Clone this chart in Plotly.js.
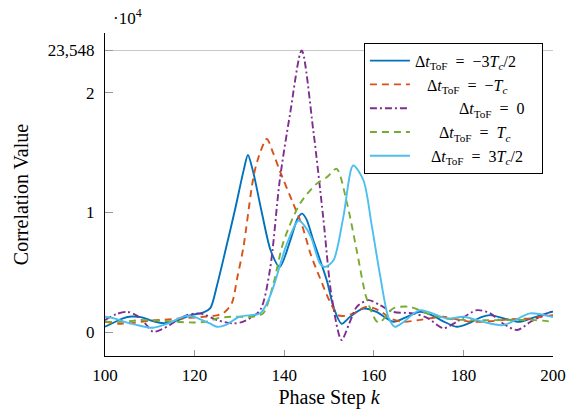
<!DOCTYPE html>
<html>
<head>
<meta charset="utf-8">
<script src="https://cdn.plot.ly/plotly-3.0.1.min.js"></script>
<style>html,body{margin:0;padding:0;background:#fff;}#chart{width:574px;height:409px;}</style>
</head>
<body>
<div id="chart"></div>
<script>
// Series: Delta t_ToF = -3Tc/2
const kA = [100,102,104,106,108,110,113,116,119,122,123.5,125,127,129,131,131.9,133,135,137,139,141.3,143,144,145,146.5,149.5,151,152.8,154.7,157.7,160.6,164.4,167,170.3,173,175.5,178.5,181,184,186,189,192.6,196,199.7,200];
const vA = [450,800,1150,1300,1250,1000,750,950,1400,1650,2000,3900,7000,10200,13600,14800,13500,10000,6800,5440,7600,9500,9900,9400,7670,4330,2110,700,1280,1970,1690,860,1200,1690,1400,900,440,700,1250,1420,1150,860,1250,1690,1700];
// Series: Delta t_ToF = -Tc
const kB = [100,103,106,110,114,118,122,125,126.5,128.3,129.5,130.9,133,134,136.1,137.5,139,142,144,146,148,150,152,153.5,156,158,160,162,164,166.6,170,175.5,178,182,186,190,195,200];
const vB = [850,700,750,950,1050,1170,1280,1400,1600,2400,4500,7100,12670,14300,16140,15000,13500,10750,8900,6400,4500,2700,1420,1350,1650,2080,2000,1600,1100,860,1000,1280,1100,860,900,1050,1150,1420];
// Series: Delta t_ToF = 0
const kC = [100,102.5,105,107,109,110.7,112.5,114.5,117,118.3,120.5,122,125,128.6,131,134.6,136.8,139,141.3,143.9,146.5,148.7,150.6,152.8,154.5,156.2,158.8,161.4,164.3,168.8,172,175.5,178.5,183,186,188.8,192,195,199.5,200];
const vC = [1000,1500,1690,1400,700,30,200,600,1200,1420,1560,1500,1000,720,900,1830,5170,12670,18220,23548,16830,9610,2940,-670,700,2110,2670,2250,1690,1560,1170,330,860,1830,1560,720,170,860,1690,1700];
// Series: Delta t_ToF = Tc
const kD = [100,104,108,112,116,120,123,125,128,133,135.3,137.6,139.8,143.5,147.2,149.5,151.7,154,156.2,158.4,160.6,161.4,164.3,168,171.9,176.3,180.8,185,191,196,200];
const vD = [860,860,1000,950,860,800,900,1150,1280,1280,1560,4060,7500,10720,12390,12940,13640,10800,6800,2800,900,800,1970,2110,1560,1140,1000,1000,1000,1000,860];
// Series: Delta t_ToF = 3Tc/2
const kE = [100,102,104,107,110.7,114,117.9,120,123.4,125,127,130,134.6,136,137.6,140.6,143.2,144.5,146,148,149.1,151,153.2,155.4,157.7,159.5,161.4,163.3,164.7,166.5,170.3,176.3,180,184,188.9,194.9,199.7,200];
const vE = [1280,1150,900,600,360,700,1330,1250,720,440,600,1280,1560,2300,3780,7390,9330,8900,7940,5720,5440,6000,9610,13920,12670,9000,4750,1200,440,800,1830,1140,1280,900,580,1560,1280,1250];

const sp = n => '\u00a0'.repeat(n);
const lhs = 'Δ<i>t</i><sub>ToF</sub>' + sp(2) + '=' + sp(2);
const names = [
  lhs + '−3<i>T</i><sub><i>c</i></sub>/2' + sp(3),
  sp(3) + lhs + '−<i>T</i><sub><i>c</i></sub>' + sp(3),
  sp(11) + lhs + '0' + sp(3),
  sp(6) + lhs + '<i>T</i><sub><i>c</i></sub>' + sp(3),
  sp(4) + lhs + '3<i>T</i><sub><i>c</i></sub>/2' + sp(3)
];
const colors = ['#0072BD','#D95319','#7E2F8E','#77AC30','#4DBEEE'];
const dashes = ['solid','7px,5px','7px,3px,2px,3px','7px,5px','solid'];
const xs = [kA,kB,kC,kD,kE];
const ys = [vA,vB,vC,vD,vE];

const yTickVals = [0,10000,20000,Math.max(...vC)];
const yTickText = ['0','1','2','23,548'];
const xTickVals = [100,120,140,160,180,200];

const traces = xs.map((x,i)=>({
  x:x, y:ys[i], type:'scatter', mode:'lines', name:names[i],
  line:{color:colors[i], width:1.9, dash:dashes[i], shape:'spline', smoothing:0.8}
}));
traces.push({x:[100], y:[0], yaxis:'y2', mode:'markers', marker:{opacity:0}, showlegend:false, hoverinfo:'skip'});

const serif = '"Liberation Serif", "DejaVu Serif", serif';
const layout = {
  width:574, height:409,
  margin:{l:105, r:21, t:33, b:53},
  paper_bgcolor:'#fff', plot_bgcolor:'#fff',
  font:{family:serif, size:17, color:'#000'},
  showlegend:true,
  legend:{x:0.578, y:0.97, xanchor:'left', yanchor:'top', bgcolor:'#fff', bordercolor:'#000', borderwidth:1,
    itemwidth:40, font:{family:serif, size:16}},
  xaxis:{range:[100,200], tickvals:xTickVals, ticks:'inside', ticklen:6, tickcolor:'#999', tickwidth:1,
    showline:true, linecolor:'#000', linewidth:1, mirror:false, showgrid:false, zeroline:false,
    ticklabelstandoff:4, tickfont:{family:serif, size:17},
    title:{text:'Phase Step <i>k</i>', font:{family:serif, size:20}, standoff:6}},
  yaxis:{range:[-2000,25000], tickvals:yTickVals, ticktext:yTickText, ticks:'inside', ticklen:8, tickcolor:'#999', tickwidth:1,
    showline:true, linecolor:'#000', linewidth:1, mirror:false, showgrid:false, zeroline:false,
    ticklabelstandoff:6, tickfont:{family:serif, size:17},
    title:{text:'Correlation Value', font:{family:serif, size:20}, standoff:13}},
  yaxis2:{overlaying:'y', range:[-2000,25000], tickvals:[Math.max(...vC)], showticklabels:false, ticks:'',
    showgrid:true, gridcolor:'#c8c8c8', gridwidth:1, showline:false, zeroline:false, side:'left'},
  annotations:[{text:'·10<sup>4</sup>', xref:'paper', yref:'paper', x:0.013, y:1.05, xanchor:'left', yanchor:'middle', showarrow:false, font:{family:serif, size:17}}]
};
Plotly.newPlot('chart', traces, layout, {displayModeBar:false, staticPlot:true});
</script>
</body>
</html>
